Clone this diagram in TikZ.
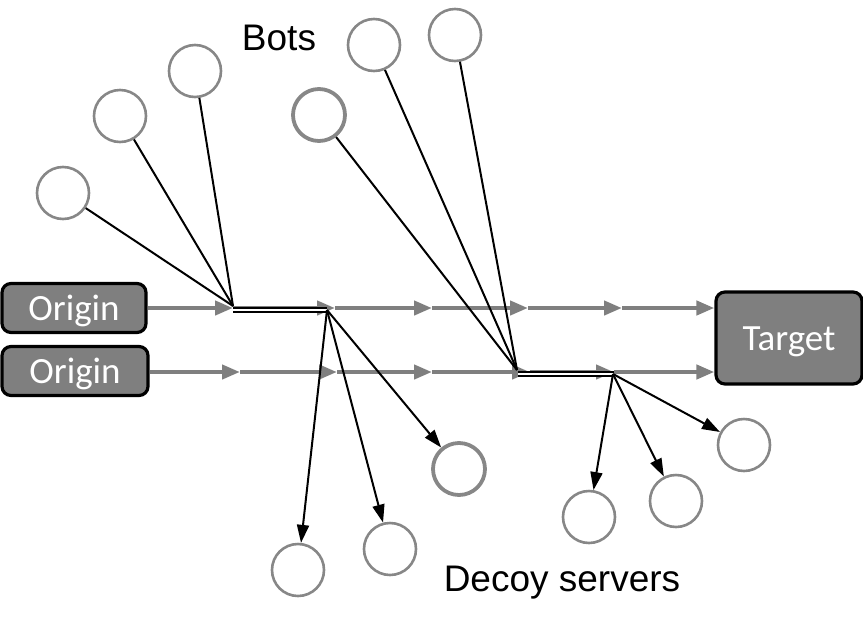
\documentclass[tikz,border=0pt]{standalone}
\usepackage{fontspec}
\setmainfont{Liberation Sans}
\newfontfamily\calfont{Carlito}
\usetikzlibrary{arrows.meta}
\definecolor{boxgray}{HTML}{7F7F7F}
\definecolor{ringgray}{HTML}{878787}
\begin{document}
\begin{tikzpicture}[x=1pt,y=-1pt,
  endbox/.style={draw=black,line width=3.2pt,fill=boxgray,rounded corners=9pt,
    text=white,font=\calfont\fontsize{37}{40}\selectfont,inner sep=0pt,
    text height=24pt,text depth=0pt},
  ring/.style={circle,draw=ringgray,line width=2.6pt,minimum size=52pt,inner sep=0pt},
  thickring/.style={ring,line width=3.8pt},
  flow/.style={draw=boxgray,line width=4.2pt,-{Triangle[length=18pt,width=14pt]}},
  botline/.style={draw=black,line width=2pt},
  decoyarrow/.style={draw=black,line width=2pt,-{Triangle[length=18pt,width=12pt]}},
  relay/.style={draw=black,double=white,line width=1.6pt,double distance=2.4pt},
  lbl/.style={font=\fontsize{37}{40}\selectfont,inner sep=0pt}]
\useasboundingbox (0,0) rectangle (863,630);
% boxes
\node[endbox,minimum width=144pt,minimum height=49pt] (o1) at (74,308) {Origin};
\node[endbox,minimum width=146pt,minimum height=49pt] (o2) at (75,371) {Origin};
\node[endbox,minimum width=146pt,minimum height=92pt] (t) at (789,338) {Target};
% bots
\node[ring] (b1) at (63,193) {};
\node[ring] (b2) at (120,116) {};
\node[ring] (b3) at (195,71) {};
\node[thickring] (b4) at (319,115) {};
\node[ring] (b5) at (374,45) {};
\node[ring] (b6) at (455,35) {};
% decoys
\node[ring] (d1) at (298,570) {};
\node[ring] (d2) at (390,549) {};
\node[thickring] (d3) at (459,469) {};
\node[ring] (d4) at (589,517) {};
\node[ring] (d5) at (676,501) {};
\node[ring] (d6) at (744,445) {};
% labels
\node[lbl] (bots) at (279,38) {Bots};
\node[lbl] (decoy) at (562,583) {Decoy servers};
% flow coordinates
\coordinate (u1) at (233,308);
\coordinate (u2) at (335,308);
\coordinate (u3) at (432,308);
\coordinate (u4) at (528,308);
\coordinate (u5) at (622,308);
\coordinate (l1) at (240,372);
\coordinate (l2) at (337,372);
\coordinate (l3) at (432,372);
\coordinate (l4) at (530,372);
\coordinate (l5) at (614,372);
\path[flow] (o1.east |- u1) -- (u1);
\path[flow] (u1) -- (u2);
\path[flow] (u2) -- (u3);
\path[flow] (u3) -- (u4);
\path[flow] (u4) -- (u5);
\path[flow] (u5) -- (t.west |- u5);
\path[flow] (o2.east |- l1) -- (l1);
\path[flow] (l1) -- (l2);
\path[flow] (l2) -- (l3);
\path[flow] (l3) -- (l4);
\path[flow] (l4) -- (l5);
\path[flow] (l5) -- (t.west |- l5);
% relays
\coordinate (j1a) at (233,306);
\coordinate (j1b) at (327,310);
\coordinate (j2a) at (517,370);
\coordinate (j2b) at (613,374);
\path[relay] (233,310) -- (327,310);
\path[relay] (518,374) -- (614,374);
% bot lines
\path[botline] (b1) -- (j1a);
\path[botline] (b2) -- (j1a);
\path[botline] (b3) -- (j1a);
\path[botline] (b4) -- (j2a);
\path[botline] (b5) -- (j2a);
\path[botline] (b6) -- (j2a);
% decoy arrows
\path[decoyarrow] (j1b) -- (d1);
\path[decoyarrow] (j1b) -- (d2);
\path[decoyarrow] (j1b) -- (d3);
\path[decoyarrow] (j2b) -- (d4);
\path[decoyarrow] (j2b) -- (d5);
\path[decoyarrow] (j2b) -- (d6);
\end{tikzpicture}
\end{document}
